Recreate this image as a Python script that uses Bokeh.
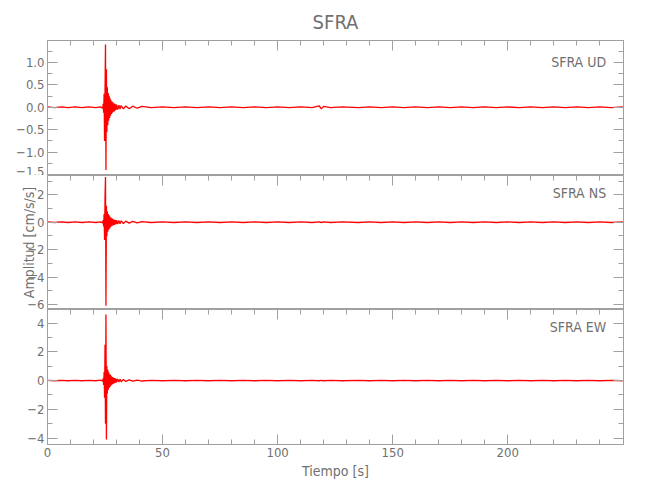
from bokeh.plotting import figure
from bokeh.layouts import column
from bokeh.models import (Range1d, LinearAxis, SingleIntervalTicker, FixedTicker,
                          Label, CustomJSTickFormatter)
from bokeh.embed import file_html
from bokeh.resources import INLINE

# ---------------- data ----------------
time_s = [0, 3, 6, 9, 12, 15, 18, 21, 23, 24.0,
          24.2, 24.4, 24.6, 24.8, 25.0, 25.2, 25.4, 25.6, 25.8, 26.0,
          26.2, 26.4, 26.6, 26.8, 27.0, 27.2, 27.4, 27.6, 27.8, 28.0,
          28.2, 28.4, 28.6, 28.8, 29.0, 29.2, 29.4, 29.6, 29.8, 30.0,
          30.5, 31.0, 31.5, 32.0, 33.0, 34.0, 35.5, 37.0, 39.0, 41.0,
          45, 50, 55, 60, 65, 70, 75, 80, 85, 90,
          95, 100, 105, 110, 115, 118, 119, 120, 123, 128,
          135, 140, 145, 150, 155, 160, 165, 170, 175, 180,
          185, 190, 195, 200, 205, 210, 215, 220, 225, 230,
          235, 240, 245, 250]

ud = [0.008, -0.008, 0.008, -0.008, 0.008, -0.008, 0.008, -0.008, 0.01, -0.02,
      0.08, -0.12, 0.30, -0.75, 0.35, 1.40, -1.40, 0.85, -0.55, 0.45,
      -0.40, 0.32, -0.30, 0.26, -0.24, 0.20, -0.19, 0.16, -0.15, 0.13,
      -0.12, 0.11, -0.10, 0.09, -0.09, 0.08, -0.07, 0.07, -0.06, 0.06,
      -0.05, 0.05, -0.04, 0.04, -0.035, 0.03, -0.03, 0.025, -0.02, 0.02,
      -0.008, 0.008, -0.008, 0.008, -0.008, 0.008, -0.008, 0.008, -0.008, 0.008,
      -0.008, 0.008, -0.008, 0.008, -0.008, 0.035, -0.035, 0.02, -0.008, 0.008,
      -0.008, 0.008, -0.008, 0.008, -0.008, 0.008, -0.008, 0.008, -0.008, 0.008,
      -0.008, 0.008, -0.008, 0.008, -0.008, 0.008, -0.008, 0.008, -0.008, 0.008,
      -0.008, 0.008, -0.008, 0.008]

ns = [0.02, -0.02, 0.02, -0.02, 0.02, -0.02, 0.02, -0.02, 0.03, -0.05,
      0.15, -0.30, 0.60, -1.30, 1.80, 3.30, -6.10, 1.20, -1.00, 0.80,
      -0.70, 0.60, -0.55, 0.50, -0.45, 0.40, -0.36, 0.33, -0.30, 0.28,
      -0.26, 0.24, -0.22, 0.20, -0.19, 0.18, -0.17, 0.16, -0.15, 0.14,
      -0.13, 0.12, -0.11, 0.10, -0.09, 0.08, -0.07, 0.06, -0.05, 0.05,
      -0.02, 0.02, -0.02, 0.02, -0.02, 0.02, -0.02, 0.02, -0.02, 0.02,
      -0.02, 0.02, -0.02, 0.02, -0.02, 0.02, -0.02, 0.02, -0.02, 0.02,
      -0.02, 0.02, -0.02, 0.02, -0.02, 0.02, -0.02, 0.02, -0.02, 0.02,
      -0.02, 0.02, -0.02, 0.02, -0.02, 0.02, -0.02, 0.02, -0.02, 0.02,
      -0.02, 0.02, -0.02, 0.02]

ew = [0.01, -0.01, 0.01, -0.01, 0.01, -0.01, 0.01, -0.01, 0.03, -0.04,
      0.15, -0.30, 0.60, -1.20, 2.50, -3.00, 4.60, -4.10, 1.00, -0.90,
      0.75, -0.65, 0.58, -0.52, 0.46, -0.42, 0.38, -0.34, 0.30, -0.28,
      0.25, -0.23, 0.21, -0.19, 0.17, -0.16, 0.15, -0.14, 0.13, -0.12,
      0.11, -0.10, 0.09, -0.08, 0.07, -0.06, 0.05, -0.04, 0.03, -0.03,
      0.01, -0.01, 0.01, -0.01, 0.01, -0.01, 0.01, -0.01, 0.01, -0.01,
      0.01, -0.01, 0.01, -0.01, 0.01, -0.01, 0.01, -0.01, 0.01, -0.01,
      0.01, -0.01, 0.01, -0.01, 0.01, -0.01, 0.01, -0.01, 0.01, -0.01,
      0.01, -0.01, 0.01, -0.01, 0.01, -0.01, 0.01, -0.01, 0.01, -0.01,
      0.01, -0.01, 0.01, -0.01]

channels = ["UD", "NS", "EW"]
station = "SFRA"
title_text = "SFRA"
x_label = "Tiempo [s]"
y_label = "Amplitud [cm/s/s]"
x_major = [0, 50, 100, 150, 200]
x_minor = [10, 20, 30, 40, 60, 70, 80, 90, 110, 120, 130, 140,
           160, 170, 180, 190, 210, 220, 230, 240]

# ---------------- style ----------------
FONT = "Liberation Sans Narrow, DejaVu Sans Condensed, sans-serif"
AXC = "#a0a0a0"
TXC = "#707070"
RED = "#ff0000"

x_range = Range1d(0, 250.3)


def style_axis(ax, labels=True, size="13px"):
    ax.axis_line_color = AXC
    ax.major_tick_line_color = AXC
    ax.minor_tick_line_color = AXC
    ax.major_tick_in = 10
    ax.major_tick_out = 0
    ax.minor_tick_in = 5
    ax.minor_tick_out = 0
    ax.major_label_text_font = FONT
    ax.major_label_text_color = TXC
    if labels:
        ax.major_label_text_font_size = size
        ax.major_label_standoff = 3
    else:
        ax.major_label_text_font_size = "0px"
        ax.major_label_text_color = None
        ax.major_label_standoff = 0
    ax.axis_label_text_font = FONT
    ax.axis_label_text_font_style = "normal"
    ax.axis_label_text_color = TXC
    ax.axis_label_text_font_size = "14px"


def make_panel(yvals, yr, interval, digits, chan, label_y, top, bottom, frame_h,
               first=False, last=False):
    p = figure(frame_width=576, frame_height=frame_h,
               x_range=x_range, y_range=Range1d(*yr),
               output_backend="svg", toolbar_location=None,
               x_axis_location="below" if last else None,
               y_axis_location="left",
               min_border_left=47, min_border_right=10,
               min_border_top=top, min_border_bottom=bottom)
    p.grid.visible = False
    p.outline_line_color = AXC

    yt = SingleIntervalTicker(interval=interval, num_minor_ticks=2)
    xt = FixedTicker(ticks=x_major, minor_ticks=x_minor)
    fmt = CustomJSTickFormatter(code="return tick.toFixed(%d).replace('-', '\u2212');" % digits)

    left = p.left[0]
    left.ticker = yt
    left.formatter = fmt
    style_axis(left)

    right = LinearAxis(ticker=yt)
    style_axis(right, labels=False)
    p.add_layout(right, "right")

    above = LinearAxis(ticker=xt)
    style_axis(above, labels=False)
    p.add_layout(above, "above")

    if last:
        bottom_ax = p.below[0]
        bottom_ax.ticker = xt
        style_axis(bottom_ax)
        bottom_ax.axis_label = x_label
        bottom_ax.axis_label_standoff = 3

    p.line(time_s, yvals, line_color=RED, line_width=1.3)

    p.add_layout(Label(x=244.5, y=label_y, text=station + "  " + chan,
                       text_align="right", text_baseline="middle",
                       text_font=FONT, text_font_size="14px", text_color=TXC))
    if first:
        p.title.text = title_text
        p.title.align = "center"
        p.title.text_font = FONT
        p.title.text_font_size = "20px"
        p.title.text_font_style = "normal"
        p.title.text_color = TXC
        p.title.standoff = 14
    return p


p1 = make_panel(ud, (-1.52, 1.49), 0.5, 1, channels[0], 1.0, 36, 0, 135, first=True)
p2 = make_panel(ns, (-6.37, 3.41), 2, 0, channels[1], 2.1, 0, 0, 134)
p2.left[0].axis_label = y_label
p2.left[0].axis_label_standoff = -13
p3 = make_panel(ew, (-4.45, 4.95), 2, 0, channels[2], 3.7, 0, 45, 135, last=True)

layout = column(p1, p2, p3, spacing=0)

open("out.html", "w").write(file_html(layout, INLINE))
